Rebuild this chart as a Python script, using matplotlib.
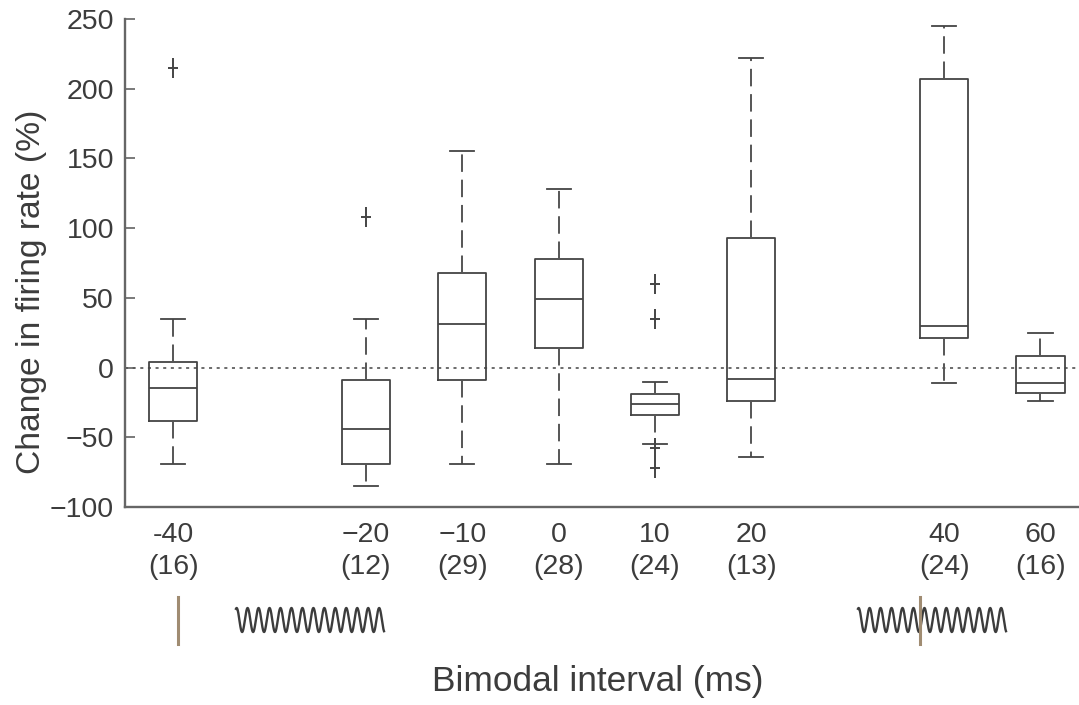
import numpy as np
import matplotlib
matplotlib.use("Agg")
import matplotlib.pyplot as plt
from matplotlib.path import Path

plt.rcParams['font.family'] = ['Liberation Sans', 'DejaVu Sans']

# interval labels and n, spaced on an even slot grid like the original
labels = ["-40\n(16)", "\u221220\n(12)", "\u221210\n(29)", "0\n(28)", "10\n(24)", "20\n(13)", "40\n(24)", "60\n(16)"]
slots = [0, 2, 3, 4, 5, 6, 8, 9]

whishi = [35, 35, 155, 128, -10, 222, 245, 25]
q3 = [4, -9, 68, 78, -19, 93, 207, 8]
med = [-15, -44, 31, 49, -26, -8, 30, -11]
q1 = [-38, -69, -9, 14, -34, -24, 21, -18]
whislo = [-69, -85, -69, -69, -55, -64, -11, -24]
fliers = [[215], [108], [], [], [60, 35, -58, -72], [], [], []]

stats = []
for i in range(len(labels)):
    stats.append(dict(med=med[i], q1=q1[i], q3=q3[i], whislo=whislo[i],
                      whishi=whishi[i], fliers=fliers[i]))

W, H = 1079, 705
fig = plt.figure(figsize=(W / 100, H / 100), dpi=100)
ax = fig.add_axes([125 / W, 1 - 507 / H, (W - 125) / W, (507 - 19) / H])

# flier marker is taller than wide in the original
plus = Path([(0, -1), (0, 1), (-0.5, 0), (0.5, 0)],
            [Path.MOVETO, Path.LINETO, Path.MOVETO, Path.LINETO])

dark = "#444444"
ax.bxp(stats, positions=slots, widths=0.5, manage_ticks=False,
       boxprops=dict(color=dark, lw=1.3),
       medianprops=dict(color=dark, lw=1.3),
       whiskerprops=dict(color="#555555", lw=1.4, linestyle=(0, (9, 4))),
       capprops=dict(color=dark, lw=1.3), capwidths=0.25,
       flierprops=dict(marker=plus, markersize=14, markeredgecolor="#444444",
                       markerfacecolor="none", markeredgewidth=1.4))

ax.axhline(0, color=dark, lw=1.1, linestyle=(0, (2, 3)), zorder=1)

ax.set_xlim(-0.5, 9.4)
ax.set_ylim(-100, 250)
ax.set_yticks(range(-100, 251, 50))
ax.set_yticklabels(["\u2212100", "\u221250", "0", "50", "100", "150", "200", "250"])
ax.set_xticks(slots)
ax.set_xticklabels(labels, linespacing=1.3)
ax.tick_params(axis="y", direction="in", length=7, width=1.1, color="#555555",
               labelsize=20.5, labelcolor="#3c3c3c", pad=8)
ax.tick_params(axis="x", direction="in", length=0, labelsize=20.5,
               labelcolor="#3c3c3c", pad=11)
for s in ["top", "right"]:
    ax.spines[s].set_visible(False)
for s in ["left", "bottom"]:
    ax.spines[s].set_linewidth(1.7)
    ax.spines[s].set_color("#666666")

# stimulus glyphs and axis titles, overlay in pixel coordinates
ov = fig.add_axes([0, 0, 1, 1])
ov.set_xlim(0, W)
ov.set_ylim(H, 0)
ov.axis("off")
ov.patch.set_alpha(0)

for x0, xbar in [(236, 178), (858, 920)]:
    t = np.linspace(0, 1, 500)
    ov.plot(x0 + 148 * t, 620 - 12 * np.sin(2 * np.pi * 13.5 * t + 1.2),
            color="#3c3c3c", lw=1.7)
    ov.plot([xbar, xbar], [597, 644], color="#a08c72", lw=2.2)

ov.text(32, 292, "Change in firing rate (%)", rotation=90, ha="center",
        va="center", fontsize=24.2, color="#3c3c3c")
ov.text(598, 681, "Bimodal interval (ms)", ha="center", va="center",
        fontsize=25.4, color="#3c3c3c")

fig.savefig("out.png", dpi=100)
